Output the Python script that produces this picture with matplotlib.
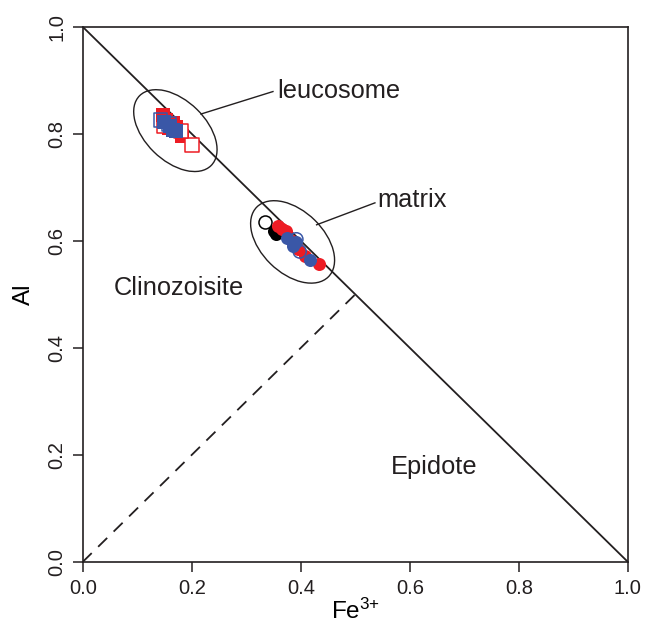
import matplotlib
matplotlib.use("Agg")
import matplotlib.pyplot as plt
from matplotlib.patches import Ellipse

# leucosome (squares)
leu_red_fill_x = [0.148, 0.152, 0.165, 0.172, 0.183, 0.158]
leu_red_fill_y = [0.835, 0.826, 0.820, 0.812, 0.796, 0.810]
leu_red_open_x = [0.200, 0.150, 0.180]
leu_red_open_y = [0.779, 0.815, 0.805]
leu_blue_fill_x = [0.150, 0.160, 0.172, 0.165]
leu_blue_fill_y = [0.822, 0.815, 0.806, 0.808]
leu_blue_open_x = [0.143, 0.158]
leu_blue_open_y = [0.826, 0.818]

# matrix (circles)
mat_black_open_x = [0.335]
mat_black_open_y = [0.635]
mat_black_fill_x = [0.350, 0.355]
mat_black_fill_y = [0.618, 0.612]
mat_red_fill_x = [0.358, 0.365, 0.372, 0.383, 0.395, 0.408, 0.433]
mat_red_fill_y = [0.628, 0.622, 0.618, 0.600, 0.585, 0.572, 0.557]
mat_red_open_x = [0.390]
mat_red_open_y = [0.592]
mat_blue_fill_x = [0.375, 0.385, 0.392, 0.417]
mat_blue_fill_y = [0.606, 0.590, 0.598, 0.565]
mat_blue_open_x = [0.392, 0.398]
mat_blue_open_y = [0.603, 0.580]

ticks = [0.0, 0.2, 0.4, 0.6, 0.8, 1.0]

RED = "#ed1c24"
BLUE = "#3a57a7"
INK = "#231f20"

plt.rcParams.update({
    "font.family": ["Liberation Sans", "DejaVu Sans"],
    "mathtext.fontset": "custom",
    "mathtext.rm": "Liberation Sans",
    "font.size": 14,
    "text.color": INK,
    "axes.edgecolor": INK,
    "xtick.color": INK,
    "ytick.color": INK,
})

fig = plt.figure(figsize=(6.46, 6.23), dpi=100)
ax = fig.add_axes([0.128, 0.098, 0.844, 0.859])
ax.set_xlim(0, 1)
ax.set_ylim(0, 1)

# field boundaries
ax.plot([0, 1], [1, 0], color=INK, lw=1.3)
ax.plot([0, 0.5], [0, 0.5], color=INK, lw=1.3, dashes=(7, 5))

# ellipses and leader lines
ax.add_patch(Ellipse((0.170, 0.806), 0.185, 0.112, angle=-45,
                     fill=False, ec=INK, lw=1.0))
ax.add_patch(Ellipse((0.385, 0.598), 0.185, 0.115, angle=-45,
                     fill=False, ec=INK, lw=1.0))
ax.plot([0.217, 0.349], [0.837, 0.879], color=INK, lw=1.0)
ax.plot([0.429, 0.536], [0.630, 0.671], color=INK, lw=1.0)
ax.text(0.357, 0.880, "leucosome", fontsize=18.3, va="center", ha="left")
ax.text(0.541, 0.677, "matrix", fontsize=18.3, va="center", ha="left")
ax.text(0.176, 0.512, "Clinozoisite", fontsize=18.3, va="center", ha="center")
ax.text(0.644, 0.177, "Epidote", fontsize=18.3, va="center", ha="center")

sq = 95
ci = 88
ax.scatter(leu_red_fill_x, leu_red_fill_y, s=sq, marker="s", c=RED, lw=0, zorder=3)
ax.scatter(leu_red_open_x, leu_red_open_y, s=sq, marker="s", facecolors="white",
           edgecolors=RED, lw=1.1, zorder=3)
ax.scatter(leu_blue_fill_x, leu_blue_fill_y, s=sq, marker="s", c=BLUE, lw=0, zorder=4)
ax.scatter(leu_blue_open_x, leu_blue_open_y, s=sq, marker="s", facecolors="none",
           edgecolors=BLUE, lw=1.1, zorder=4)

ax.scatter(mat_black_open_x, mat_black_open_y, s=ci, facecolors="white",
           edgecolors="black", lw=1.1, zorder=3)
ax.scatter(mat_black_fill_x, mat_black_fill_y, s=ci, c="black", lw=0, zorder=3)
ax.scatter(mat_red_fill_x, mat_red_fill_y, s=ci, c=RED, lw=0, zorder=3)
ax.scatter(mat_red_open_x, mat_red_open_y, s=ci, facecolors="none",
           edgecolors=RED, lw=1.1, zorder=4)
ax.scatter(mat_blue_fill_x, mat_blue_fill_y, s=ci, c=BLUE, lw=0, zorder=4)
ax.scatter(mat_blue_open_x, mat_blue_open_y, s=ci, facecolors="none",
           edgecolors=BLUE, lw=1.1, zorder=5)

ax.set_xticks(ticks)
ax.set_yticks(ticks)
ax.set_xticklabels([f"{t:.1f}" for t in ticks])
ax.set_yticklabels([f"{t:.1f}" for t in ticks], rotation=90, va="center")
ax.tick_params(direction="out", length=7, width=1.1, labelsize=14.5, pad=5)
for sp in ax.spines.values():
    sp.set_linewidth(1.2)

ax.set_xlabel(r"$\mathregular{Fe^{3{+}}}$", fontsize=17.5, labelpad=1)
ax.set_ylabel("Al", fontsize=17.5, labelpad=9)

fig.savefig("out.png", dpi=100)
